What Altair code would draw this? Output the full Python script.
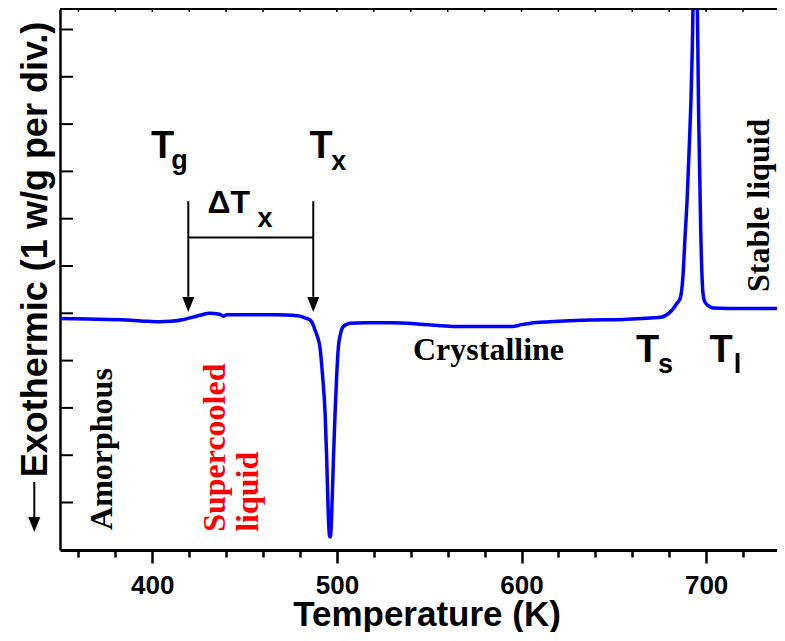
import altair as alt
import pandas as pd

# ---------------- data ----------------
temperature_k = [350, 365, 386, 398, 404, 410, 417, 422, 426, 431, 436.5, 438.5, 440.3,
                 450, 458, 468, 476, 480, 483, 485.4, 487, 488.1, 489.5, 490.8, 492.2,
                 493.6, 494.5, 495.3, 496.0, 496.3, 496.6, 497.2, 498.1, 499.0, 499.9,
                 500.8, 501.8, 503.3, 507, 515, 530, 545, 555, 567, 578, 588, 595, 600,
                 605, 615, 637, 655, 670, 676, 680, 682, 684, 686, 687.5, 688.5, 689.7,
                 690.8, 691.8, 692.5, 693.0, 694.0, 695.1, 696.0, 697.1, 698.0, 698.9,
                 700.5, 702, 704, 712, 742]
heat_flow_wg = [4.89, 4.88, 4.86, 4.83, 4.82, 4.83, 4.87, 4.92, 4.96, 5.00, 4.98, 4.94, 4.97,
                4.97, 4.97, 4.97, 4.96, 4.94, 4.90, 4.86, 4.77, 4.65, 4.50, 4.29, 3.70,
                2.89, 1.90, 0.78, 0.30, 0.27, 0.30, 0.78, 1.90, 2.89, 3.70,
                4.29, 4.54, 4.71, 4.79, 4.80, 4.80, 4.77, 4.74, 4.72, 4.72, 4.72, 4.72, 4.76,
                4.79, 4.82, 4.86, 4.87, 4.90, 4.92, 5.01, 5.09, 5.20, 5.32, 5.81, 6.55, 7.40,
                8.45, 9.51, 10.57, 11.62, 12.05, 11.62, 9.09, 6.70, 5.60, 5.28,
                5.18, 5.14, 5.11, 5.10, 5.10]

x_tick_values = [360, 380, 400, 420, 440, 460, 480, 500, 520, 540, 560, 580, 600,
                 620, 640, 660, 680, 700, 720]
y_tick_values = [1, 2, 3, 4, 5, 6, 7, 8, 9, 10, 11]

# symbol labels (Arial bold): main letter + subscript
sym_text = ["T", "g", "T", "x", "\u0394T", "x", "T", "s", "T", "l"]
sym_x = [399.3, 410.3, 485.2, 497.0, 429.9, 457.0, 662.0, 674.0, 701.8, 715.0]
sym_y = [8.28, 8.05, 8.28, 8.03, 7.11, 6.83, 3.97, 3.74, 3.97, 3.74]
sym_size = [38, 27, 38, 27, 32, 27, 38, 27, 38, 27]

# region labels (Times bold)
region_text = ["Amorphous", "Supercooled", "liquid", "Crystalline", "Stable liquid"]
region_x = [378.0, 439.4, 457.3, 541.2, 734.0]
region_y = [0.42, 0.38, 0.38, 4.01, 5.45]
region_angle = [270, 270, 270, 0, 270]
region_color = ["black", "red", "red", "black", "black"]

# Tg / Tx arrows and the delta-Tx bar
arrow_x = [419.5, 487.2]
arrow_top = [7.37, 7.37]
arrow_base = [5.35, 5.35]
arrow_tip = [5.03, 5.03]
bar_x = [419.5]
bar_x2 = [487.2]
bar_y = [6.60]

# ---------------- tables ----------------
curve = pd.DataFrame({"temperature": temperature_k, "signal": heat_flow_wg})
xt = pd.DataFrame({"temperature": x_tick_values})
yt = pd.DataFrame({"signal": y_tick_values})
syms = pd.DataFrame({"temperature": sym_x, "signal": sym_y, "label": sym_text, "fs": sym_size})
regions = pd.DataFrame({"temperature": region_x, "signal": region_y, "label": region_text,
                        "angle": region_angle, "color": region_color})
arrows = pd.DataFrame({"temperature": arrow_x, "signal": arrow_top, "signal2": arrow_base,
                       "tip": arrow_tip})
bar = pd.DataFrame({"temperature": bar_x, "temperature2": bar_x2, "signal": bar_y})
one = pd.DataFrame({"k": [0]})

W, H = 717, 541
SANS = "Liberation Sans"
SERIF = "Liberation Serif"
HEAD = "M-0.8,-2L0.8,-2L0,0Z"

xs = alt.Scale(domain=[350, 738.4], nice=False, zero=False)
ys = alt.Scale(domain=[-0.004, 11.433], nice=False, zero=False)

xaxis = alt.Axis(
    values=x_tick_values,
    labelExpr="datum.value % 100 === 0 ? datum.label : ''",
    tickSize={"condition": {"test": "datum.value % 100 === 0", "value": 13}, "value": 7},
    tickWidth=2.5, tickColor="black", domainColor="black", domainWidth=3,
    labelFont=SANS, labelFontWeight="bold", labelFontSize=26, labelColor="black",
    labelPadding=9, labelOverlap=False, labelFlush=False, grid=False,
    title="Temperature (K)", titleFont=SANS, titleFontWeight="bold", titleFontSize=35,
    titleColor="black", titleX=366.5, titleY=75, titleBaseline="alphabetic", titleAlign="center",
)
yaxis = alt.Axis(
    values=y_tick_values, ticks=False, labels=False, grid=False,
    domainColor="black", domainWidth=2.5,
    title="Exothermic (1 w/g per div.)", titleFont=SANS, titleFontWeight="bold",
    titleFontSize=36, titleColor="black", titleAngle=270, titleAlign="left",
    titleBaseline="alphabetic", titleX=-13.3, titleY=467.7,
)

X = alt.X("temperature:Q", scale=xs, axis=xaxis)
Y = alt.Y("signal:Q", scale=ys, axis=yaxis)

line = alt.Chart(curve).mark_line(color="#0000ff", strokeWidth=3.5, clip=True,
                                  interpolate="monotone").encode(x=X, y=Y)

left_ticks = alt.Chart(yt).mark_rule(color="black", strokeWidth=2).encode(
    y=Y, x=alt.value(0), x2=alt.value(13))
top_ticks = alt.Chart(xt).mark_rule(color="black", strokeWidth=1.5).encode(
    x=X, y=alt.value(0), y2=alt.value(3))
top_line = alt.Chart(one).mark_rule(color="black", strokeWidth=2).encode(
    x=alt.value(0), x2=alt.value(W), y=alt.value(0))

arrow_shafts = alt.Chart(arrows).mark_rule(color="black", strokeWidth=2).encode(
    x=X, y=Y, y2=alt.Y2("signal2:Q"))
arrow_heads = alt.Chart(arrows).mark_point(shape=HEAD, size=225, filled=True, color="black",
                                           opacity=1, strokeWidth=0).encode(
    x=X, y=alt.Y("tip:Q", scale=ys, axis=yaxis))
bar_rule = alt.Chart(bar).mark_rule(color="black", strokeWidth=2).encode(
    x=X, x2=alt.X2("temperature2:Q"), y=Y)

sym_layer = alt.Chart(syms).mark_text(font=SANS, fontWeight="bold", align="left",
                                      baseline="alphabetic", color="black").encode(
    x=X, y=Y, text="label:N", size=alt.Size("fs:Q", scale=None))
region_layer = alt.Chart(regions).mark_text(font=SERIF, fontWeight="bold", align="left",
                                            baseline="alphabetic", fontSize=32).encode(
    x=X, y=Y, text="label:N", angle=alt.Angle("angle:Q", scale=None),
    color=alt.Color("color:N", scale=None))

# arrow in front of the y-axis title
title_shaft = alt.Chart(one).mark_rule(color="black", strokeWidth=2).encode(
    x=alt.value(-25.7), y=alt.value(473), y2=alt.value(510))
title_head = alt.Chart(one).mark_point(shape=HEAD, size=225, filled=True, color="black",
                                       opacity=1, strokeWidth=0).encode(
    x=alt.value(-25.7), y=alt.value(523))

chart = alt.layer(
    line, left_ticks, top_ticks, top_line, arrow_shafts, arrow_heads, bar_rule,
    sym_layer, region_layer, title_shaft, title_head,
).properties(
    width=W, height=H,
    padding={"left": 52, "top": 1, "right": 0, "bottom": 82},
    autosize=alt.AutoSizeParams(type="none"),
    background="white",
).configure_view(stroke=None)

chart.save("out.html", embed_options={"renderer": "svg", "actions": False})
